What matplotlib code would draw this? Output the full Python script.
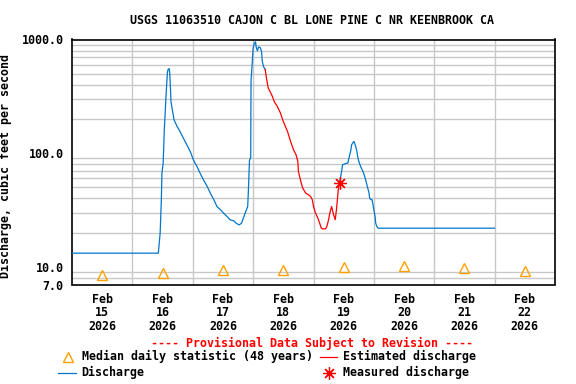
import numpy as np
import matplotlib
matplotlib.use('Agg')
import matplotlib.pyplot as plt
from matplotlib.lines import Line2D

# time in days since Feb 15 2026 00:00, discharge in cfs
q_days = [0.0, 1.43, 1.46, 1.48, 1.49, 1.51, 1.53, 1.54, 1.56, 1.58, 1.59, 1.61,
          1.62, 1.64, 1.67, 1.69, 1.74, 1.79, 1.84, 1.90, 1.96, 2.01, 2.07, 2.12,
          2.18, 2.24, 2.29, 2.35, 2.40, 2.46, 2.51, 2.57, 2.62, 2.68, 2.72, 2.77,
          2.81, 2.84, 2.87, 2.91, 2.92, 2.94, 2.96, 2.965, 2.99, 3.00, 3.02, 3.04,
          3.05, 3.07, 3.09, 3.12, 3.14, 3.15, 3.17, 3.20]
q_vals = [13.2, 13.2, 19.9, 38.9, 67, 82, 167, 209, 340, 512, 543, 555,
          500, 283, 227, 197, 172, 155, 137, 119, 103, 87.5, 76.4, 67,
          58, 50.9, 44.6, 38.9, 34, 31.8, 29.7, 27.7, 25.9, 25.4, 24.2, 23.4,
          24.3, 27, 29.9, 34, 44.7, 87, 91, 428, 690, 840, 925, 955,
          860, 795, 860, 845, 780, 650, 580, 545]

est_days = [3.20, 3.22, 3.25, 3.29, 3.32, 3.35, 3.40, 3.45, 3.50, 3.57, 3.62,
            3.67, 3.71, 3.74, 3.75, 3.79, 3.82, 3.87, 3.92, 3.95, 3.98, 4.00,
            4.03, 4.07, 4.10, 4.13, 4.15, 4.20, 4.22, 4.25, 4.27, 4.30, 4.33,
            4.36, 4.38, 4.41, 4.42, 4.43]
est_vals = [545, 460, 375, 340, 315, 284, 258, 227, 190, 155, 127,
            107, 97, 85, 69, 56.5, 49.5, 44.6, 43, 41.7, 39, 34,
            30, 27, 24.4, 21.9, 21.6, 21.6, 22.6, 26, 29.7, 34, 29,
            26, 31.8, 47.6, 51, 55]

q2_days = [4.43, 4.45, 4.47, 4.48, 4.53, 4.57, 4.58, 4.60, 4.62, 4.63, 4.65,
           4.67, 4.68, 4.70, 4.72, 4.73, 4.75, 4.78, 4.82, 4.85, 4.87, 4.90,
           4.92, 4.93, 4.95, 4.97, 4.98, 5.00, 5.02, 5.03, 5.05, 5.07, 7.00]
q2_vals = [55, 62, 71.5, 79, 81, 82, 87, 97, 107, 118, 123,
           127, 123, 114, 103, 94, 85, 76.4, 69, 62, 56.5, 49,
           44.6, 40.3, 39, 39, 36.6, 31.8, 27.7, 24.2, 22.6, 21.9, 21.9]

meas_day = [4.44]
meas_val = [55]

med_days = [0.5, 1.5, 2.5, 3.5, 4.5, 5.5, 6.5, 7.5]
med_vals = [8.45, 8.9, 9.45, 9.45, 9.9, 10.1, 9.75, 9.25]

day_labels = ['Feb\n15\n2026', 'Feb\n16\n2026', 'Feb\n17\n2026', 'Feb\n18\n2026',
              'Feb\n19\n2026', 'Feb\n20\n2026', 'Feb\n21\n2026', 'Feb\n22\n2026']

blue = '#0077CC'
red = '#FF0000'
orange = '#FFA000'
grid_c = '#C8C8C8'
fnt = dict(family='DejaVu Sans Mono', weight='bold', size=8.4)

W, H = 576, 384
fig = plt.figure(figsize=(W / 100, H / 100), dpi=100)
ax = fig.add_axes([72 / W, 1 - 284.5 / H, (555 - 72) / W, (284.5 - 39.5) / H])

ax.plot(q_days, q_vals, color=blue, lw=0.9, zorder=3)
ax.plot(est_days, est_vals, color=red, lw=0.9, zorder=3)
ax.plot(q2_days, q2_vals, color=blue, lw=0.9, zorder=3)
ax.plot(meas_day, meas_val, ls='none', marker=(8, 2, 0), ms=9, mew=0.9, color=red, zorder=4)
ax.plot(med_days, med_vals, ls='none', marker='^', ms=7, mfc='none', mec=orange, mew=1.0, zorder=4)

ax.set_yscale('log')
ax.set_ylim(7, 1000)
ax.set_xlim(0, 8)

minor_y = [7, 8, 9] + [v * m for m in (10, 100) for v in range(1, 10)] + [1000]
ax.set_yticks([7, 10, 100, 1000])
ax.set_yticklabels(['7.0', '10.0', '100.0', '1000.0'])
ax.set_yticks(minor_y, minor=True)
ax.set_yticklabels([], minor=True)
ax.set_xticks(med_days)
ax.set_xticklabels(day_labels, linespacing=1.05)
ax.set_xticks(range(1, 8), minor=True)
ax.grid(which='minor', color=grid_c, lw=1.0, zorder=1)
ax.grid(which='major', visible=False)
ax.tick_params(which='both', length=0)
ax.tick_params(axis='y', pad=6)
ax.tick_params(axis='x', pad=6)
for lab in ax.get_xticklabels() + ax.get_yticklabels():
    lab.set_fontfamily(fnt['family'])
    lab.set_fontweight('bold')
    lab.set_fontsize(fnt['size'])
for s in ax.spines.values():
    s.set_linewidth(1.2)

ax.set_ylabel('Discharge, cubic feet per second', **fnt)
ax.yaxis.set_label_coords((12 - 72) / (555 - 72), (284.5 - 166) / 245)

def px(x, y):
    return x / W, 1 - y / H

fig.text(*px(312, 20), 'USGS 11063510 CAJON C BL LONE PINE C NR KEENBROOK CA',
         ha='center', va='center', **fnt)
fig.text(*px(312, 343), '---- Provisional Data Subject to Revision ----',
         ha='center', va='center', color=red, **fnt)

fig.add_artist(Line2D([67.7 / W], [1 - 356.7 / H], ls='none', marker='^', ms=7,
                      mfc='none', mec=orange, mew=1.0))
fig.text(*px(81.7, 356.7), 'Median daily statistic (48 years)', ha='left', va='center', **fnt)
fig.add_artist(Line2D([320 / W, 336.7 / W], [1 - 356.7 / H] * 2, color=red, lw=0.9))
fig.text(*px(343.3, 356.7), 'Estimated discharge', ha='left', va='center', **fnt)
fig.add_artist(Line2D([58 / W, 75.7 / W], [1 - 372.7 / H] * 2, color=blue, lw=0.9))
fig.text(*px(81.7, 372.7), 'Discharge', ha='left', va='center', **fnt)
fig.add_artist(Line2D([329.3 / W], [1 - 372.7 / H], ls='none', marker=(8, 2, 0), ms=9,
                      mew=0.9, color=red))
fig.text(*px(343.3, 372.7), 'Measured discharge', ha='left', va='center', **fnt)

fig.savefig('out.png', dpi=100)
